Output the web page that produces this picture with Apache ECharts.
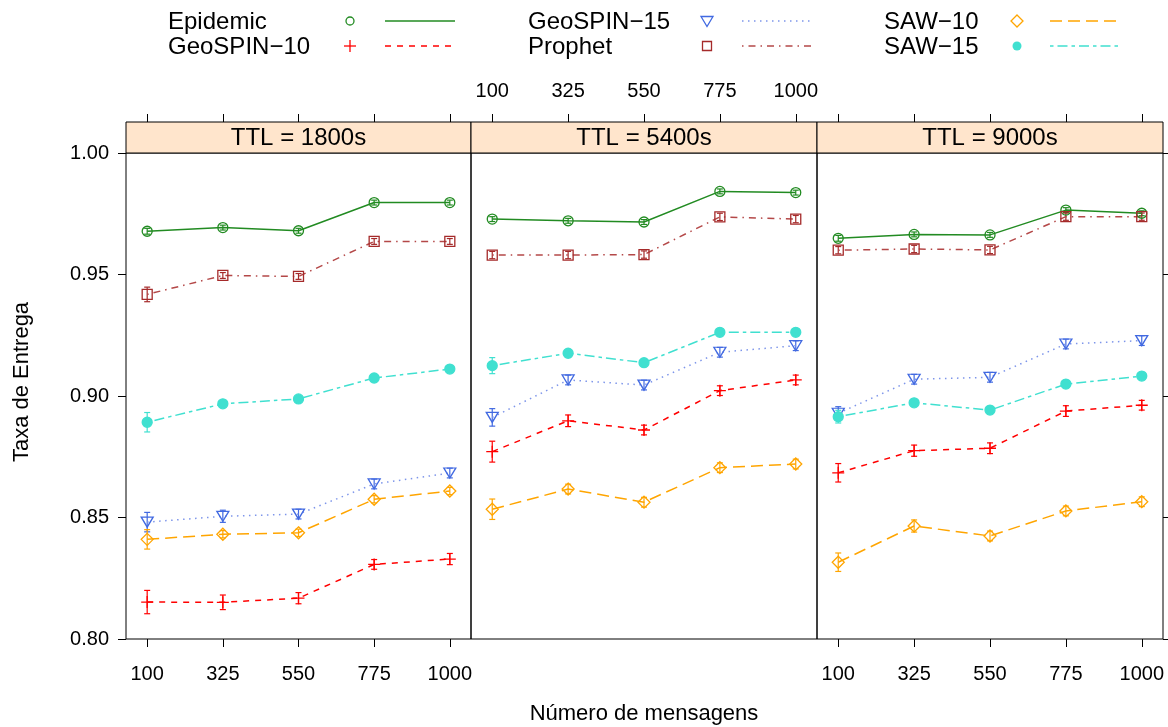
<!DOCTYPE html>
<html><head><meta charset="utf-8">
<script src="https://cdn.jsdelivr.net/npm/echarts@6/dist/echarts.min.js"></script>
<style>html,body{margin:0;padding:0;background:#fff}#c{width:1168px;height:727px}</style>
</head><body><div id="c"></div>
<script>
// ---- data ----
const messages = [100, 325, 550, 775, 1000];
const panels = ['TTL = 1800s', 'TTL = 5400s', 'TTL = 9000s'];
const yTicks = [0.80, 0.85, 0.90, 0.95, 1.00];
const methodNames = ['Epidemic', 'GeoSPIN\u221210', 'GeoSPIN\u221215', 'Prophet', 'SAW\u221210', 'SAW\u221215'];

// values: one row per panel (TTL 1800s, 5400s, 9000s), one entry per message count
const epidemic = [
  [0.9678, 0.9693, 0.9680, 0.9796, 0.9796],
  [0.9728, 0.9721, 0.9716, 0.9842, 0.9837],
  [0.9649, 0.9665, 0.9663, 0.9765, 0.9752]];
const geospin10 = [
  [0.8152, 0.8151, 0.8168, 0.8307, 0.8329],
  [0.8771, 0.8898, 0.8860, 0.9022, 0.9066],
  [0.8684, 0.8775, 0.8785, 0.8938, 0.8962]];
const geospin15 = [
  [0.8481, 0.8505, 0.8514, 0.8638, 0.8683],
  [0.8912, 0.9066, 0.9045, 0.9180, 0.9207],
  [0.8929, 0.9069, 0.9077, 0.9214, 0.9228]];
const prophet = [
  [0.9418, 0.9496, 0.9492, 0.9636, 0.9636],
  [0.9580, 0.9580, 0.9582, 0.9737, 0.9728],
  [0.9600, 0.9605, 0.9601, 0.9738, 0.9738]];
const saw10 = [
  [0.8410, 0.8431, 0.8437, 0.8575, 0.8609],
  [0.8534, 0.8617, 0.8563, 0.8705, 0.8720],
  [0.8316, 0.8465, 0.8424, 0.8527, 0.8565]];
const saw15 = [
  [0.8892, 0.8968, 0.8988, 0.9074, 0.9111],
  [0.9125, 0.9176, 0.9137, 0.9262, 0.9262],
  [0.8915, 0.8972, 0.8942, 0.9049, 0.9082]];

// error-bar half widths
const epidemicErr = [
  [0.0012, 0.0010, 0.0010, 0.0010, 0.0010],
  [0.0010, 0.0010, 0.0010, 0.0010, 0.0010],
  [0.0012, 0.0010, 0.0010, 0.0010, 0.0010]];
const geospin10Err = [
  [0.0048, 0.0030, 0.0023, 0.0020, 0.0023],
  [0.0043, 0.0024, 0.0020, 0.0020, 0.0020],
  [0.0038, 0.0023, 0.0022, 0.0022, 0.0020]];
const geospin15Err = [
  [0.0040, 0.0025, 0.0020, 0.0020, 0.0020],
  [0.0036, 0.0020, 0.0020, 0.0020, 0.0020],
  [0.0027, 0.0020, 0.0020, 0.0020, 0.0020]];
const prophetErr = [
  [0.0030, 0.0012, 0.0012, 0.0012, 0.0012],
  [0.0015, 0.0015, 0.0015, 0.0015, 0.0015],
  [0.0015, 0.0015, 0.0015, 0.0015, 0.0015]];
const saw10Err = [
  [0.0040, 0.0015, 0.0015, 0.0015, 0.0015],
  [0.0042, 0.0020, 0.0020, 0.0020, 0.0020],
  [0.0038, 0.0025, 0.0020, 0.0020, 0.0020]];
const saw15Err = [
  [0.0040, 0.0010, 0.0010, 0.0010, 0.0010],
  [0.0033, 0.0015, 0.0015, 0.0015, 0.0015],
  [0.0026, 0.0015, 0.0015, 0.0015, 0.0015]];

// ---- styling ----
const FONT = 'Liberation Sans, Arial, Helvetica, sans-serif';
const methods = [
  {name: methodNames[0], vals: epidemic, err: epidemicErr, color: '#228B22', dash: 'solid',
   symbol: 'path://M5,0 A5,5 0 1 1 4.999,0 Z', size: [10, 10], fill: 'rgba(0,0,0,0)', kind: 'circle'},
  {name: methodNames[1], vals: geospin10, err: geospin10Err, color: '#FF0000', dash: [6, 6],
   symbol: 'path://M5,0 L5,10 M0,5 L10,5', size: [12, 12], fill: 'rgba(0,0,0,0)', kind: 'plus'},
  {name: methodNames[2], vals: geospin15, err: geospin15Err, color: '#4169E1', dash: [1.5, 4.5],
   symbol: 'path://M0,0 L10,0 L5,8.66 Z', size: [12, 10], fill: 'rgba(0,0,0,0)', kind: 'tri', lineColor: '#7d95ea'},
  {name: methodNames[3], vals: prophet, err: prophetErr, color: '#A52A2A', dash: [1.5, 5, 7, 5],
   symbol: 'path://M0,0 L10,0 L10,10 L0,10 Z', size: [10, 10], fill: 'rgba(0,0,0,0)', kind: 'square', lineColor: '#b44848'},
  {name: methodNames[4], vals: saw10, err: saw10Err, color: '#FFA500', dash: [12, 6],
   symbol: 'path://M5,0 L10,5 L5,10 L0,5 Z', size: [12, 12], fill: 'rgba(0,0,0,0)', kind: 'diamond'},
  {name: methodNames[5], vals: saw15, err: saw15Err, color: '#40E0D0', dash: [3.5, 4, 10, 4],
   symbol: 'circle', size: [10, 10], fill: '#40E0D0', kind: 'dot'}
];

const gridLeft = [126, 471, 817];
const gridWidth = [345, 346, 346];
const gridTop = 153, gridHeight = 486, stripH = 31;

const grids = gridLeft.map((l, i) => ({
  left: l, width: gridWidth[i], top: gridTop, height: gridHeight,
  show: true, borderColor: '#000', borderWidth: 1, backgroundColor: 'rgba(0,0,0,0)'
}));

const axisTxt = {color: '#000', fontFamily: FONT, fontSize: 20};
const xAxes = [];
gridLeft.forEach((l, i) => {
  xAxes.push({
    gridIndex: i, type: 'value', min: 37, max: 1063, position: 'bottom',
    axisLine: {show: false}, splitLine: {show: false},
    axisTick: {show: i !== 1, customValues: messages, length: 8, lineStyle: {color: '#000', width: 1}},
    axisLabel: Object.assign({show: i !== 1, customValues: messages, margin: 25,
      formatter: v => String(v)}, axisTxt)
  });
  xAxes.push({
    gridIndex: i, type: 'value', min: 37, max: 1063, position: 'top', offset: stripH,
    axisLine: {show: false}, splitLine: {show: false},
    axisTick: {show: true, customValues: messages, length: 8, lineStyle: {color: '#000', width: 1}},
    axisLabel: Object.assign({show: i === 1, customValues: messages, margin: 21,
      formatter: v => String(v)}, axisTxt)
  });
});

const yAxes = gridLeft.map((l, i) => ({
  gridIndex: i, type: 'value', min: 0.8, max: 1.0, position: 'left',
  axisLine: {show: false}, splitLine: {show: false},
  axisTick: {show: i === 0, customValues: yTicks, length: 8, lineStyle: {color: '#000', width: 1}},
  axisLabel: Object.assign({show: i === 0, customValues: yTicks, margin: 17,
    formatter: v => v.toFixed(2)}, axisTxt)
}));
yAxes.push({
  gridIndex: 2, type: 'value', min: 0.8, max: 1.0, position: 'right',
  axisLine: {show: false}, splitLine: {show: false},
  axisTick: {show: true, customValues: yTicks, length: 8, lineStyle: {color: '#000', width: 1}},
  axisLabel: {show: false}
});

const series = [];
[0, 1, 2].forEach(p => {
  methods.forEach(m => {
    const errData = messages.map((x, k) => [x, m.vals[p][k], m.err[p][k]]);
    series.push({
      type: 'custom', xAxisIndex: 2 * p, yAxisIndex: p, data: errData,
      encode: {x: 0, y: 1}, silent: true, z: 3,
      renderItem: (params, api) => {
        const x = api.value(0), y = api.value(1), e = api.value(2);
        const t = api.coord([x, y + e]), b = api.coord([x, y - e]);
        const w = 3, st = {stroke: m.color, lineWidth: 1.2};
        return {type: 'group', children: [
          {type: 'line', shape: {x1: t[0], y1: t[1], x2: b[0], y2: b[1]}, style: st},
          {type: 'line', shape: {x1: t[0] - w, y1: t[1], x2: t[0] + w, y2: t[1]}, style: st},
          {type: 'line', shape: {x1: b[0] - w, y1: b[1], x2: b[0] + w, y2: b[1]}, style: st}
        ]};
      }
    });
    series.push({
      type: 'line', name: m.name, xAxisIndex: 2 * p, yAxisIndex: p,
      data: messages.map((x, k) => [x, m.vals[p][k]]),
      symbol: m.symbol, symbolSize: m.size, showAllSymbol: true, z: 4,
      lineStyle: {color: m.lineColor || m.color, width: 1.5, type: m.dash},
      itemStyle: {color: m.fill, borderColor: m.color, borderWidth: 1.3},
      emphasis: {disabled: true}, animation: false
    });
  });
});

// ---- graphics: strips, legend, axis titles ----
const graphic = [];
gridLeft.forEach((l, i) => {
  graphic.push({type: 'rect', shape: {x: l, y: gridTop - stripH, width: gridWidth[i], height: stripH},
    style: {fill: '#ffe5cc', stroke: '#000', lineWidth: 1}, z: 10});
  graphic.push({type: 'text', x: l + gridWidth[i] / 2, y: gridTop - stripH / 2 + 1,
    style: {text: panels[i], fill: '#000', font: '24px ' + FONT, textAlign: 'center', textVerticalAlign: 'middle'}, z: 11});
});

const legTextX = [168, 528, 884];
const legSymX = [350, 707, 1017];
const legLineX = [[385, 455], [742, 813], [1050, 1120]];
const legRowY = [21, 46];
methods.forEach((m, idx) => {
  const c = Math.floor(idx / 2), r = idx % 2;
  const y = legRowY[r], sx = legSymX[c];
  graphic.push({type: 'text', x: legTextX[c], y: y + 1,
    style: {text: m.name, fill: '#000', font: '24px ' + FONT, textAlign: 'left', textVerticalAlign: 'middle'}});
  const st = {stroke: m.color, lineWidth: 1.3, fill: 'none'};
  if (m.kind === 'circle') graphic.push({type: 'circle', shape: {cx: sx, cy: y, r: 4}, style: st});
  if (m.kind === 'plus') {
    graphic.push({type: 'line', shape: {x1: sx - 6, y1: y, x2: sx + 6, y2: y}, style: st});
    graphic.push({type: 'line', shape: {x1: sx, y1: y - 6, x2: sx, y2: y + 6}, style: st});
  }
  if (m.kind === 'tri') graphic.push({type: 'polygon', shape: {points: [[sx - 6, y - 4.5], [sx + 6, y - 4.5], [sx, y + 5.5]]}, style: st});
  if (m.kind === 'square') graphic.push({type: 'rect', shape: {x: sx - 4.5, y: y - 4.5, width: 9, height: 9}, style: st});
  if (m.kind === 'diamond') graphic.push({type: 'polygon', shape: {points: [[sx, y - 6], [sx + 6, y], [sx, y + 6], [sx - 6, y]]}, style: st});
  if (m.kind === 'dot') graphic.push({type: 'circle', shape: {cx: sx, cy: y, r: 4.5}, style: {fill: m.color}});
  graphic.push({type: 'line', shape: {x1: legLineX[c][0], y1: y, x2: legLineX[c][1], y2: y},
    style: {stroke: m.lineColor || m.color, lineWidth: 1.5, lineDash: m.dash === 'solid' ? null : m.dash}});
});

graphic.push({type: 'text', x: 644, y: 714,
  style: {text: 'Número de mensagens', fill: '#000', font: '22px ' + FONT, textAlign: 'center', textVerticalAlign: 'middle'}});
graphic.push({type: 'text', x: 22, y: 382, rotation: Math.PI / 2,
  style: {text: 'Taxa de Entrega', fill: '#000', font: '22px ' + FONT, textAlign: 'center', textVerticalAlign: 'middle'}});

const chart = echarts.init(document.getElementById('c'), null, {renderer: 'canvas'});
chart.setOption({
  animation: false,
  backgroundColor: '#fff',
  grid: grids, xAxis: xAxes, yAxis: yAxes, series: series, graphic: graphic
});
</script></body></html>
